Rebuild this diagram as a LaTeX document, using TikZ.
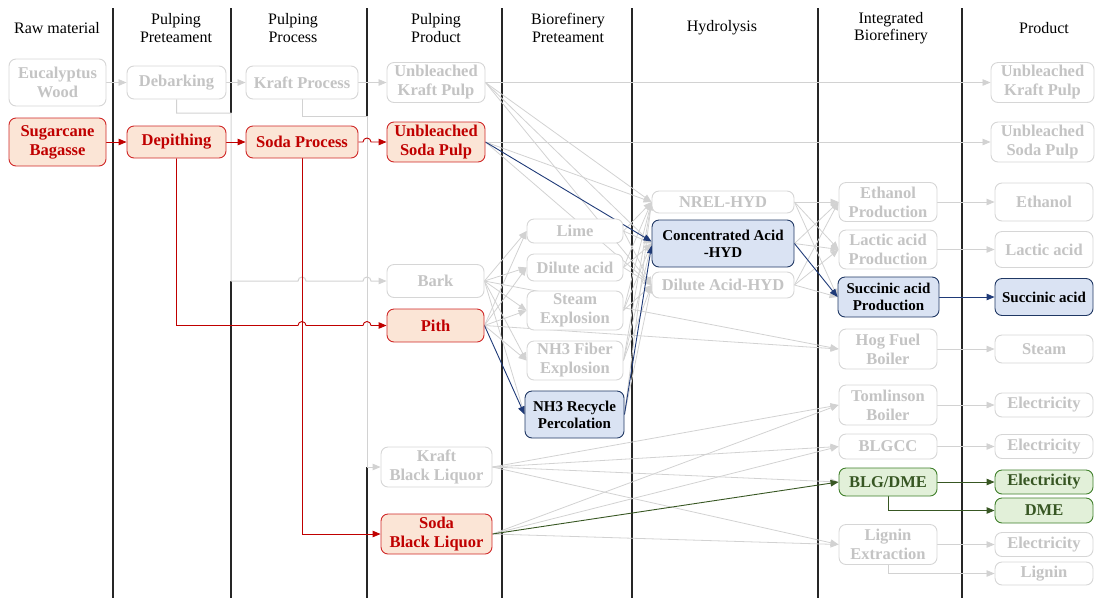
\documentclass[tikz,border=0pt]{standalone}
\usepackage{fontspec}
\setmainfont{Liberation Serif}
\usetikzlibrary{arrows.meta}
\pgfdeclarelayer{back}
\pgfdeclarelayer{wires}
\pgfsetlayers{back,wires,main}

\definecolor{gBorder}{HTML}{D6D6D6}
\definecolor{gText}{HTML}{C4C4C4}
\definecolor{gLine}{HTML}{D2D2D2}
\definecolor{rBorder}{HTML}{D02828}
\definecolor{rFill}{HTML}{FBE5D6}
\definecolor{rText}{HTML}{C00000}
\definecolor{rLine}{HTML}{C00000}
\definecolor{bBorder}{HTML}{203864}
\definecolor{bFill}{HTML}{DAE3F3}
\definecolor{bLine}{HTML}{1F3A78}
\definecolor{nBorder}{HTML}{3F7F2A}
\definecolor{nFill}{HTML}{E2F0D9}
\definecolor{nText}{HTML}{375623}
\definecolor{nLine}{HTML}{385723}

\tikzset{
  base/.style={rounded corners=7pt, line width=0.9pt, inner sep=0pt, align=center,
    font=\bfseries\fontsize{16.5}{19}\selectfont},
  gbox/.style={base, draw=gBorder, fill=white, text=gText},
  rbox/.style={base, draw=rBorder, fill=rFill, text=rText},
  bbox/.style={base, draw=bBorder, fill=bFill, text=black, font=\bfseries\fontsize{15}{16.8}\selectfont},
  nbox/.style={base, draw=nBorder, fill=nFill, text=nText},
  sz/.style 2 args={minimum width=#1, minimum height=#2},
  hdr/.style={align=center, inner sep=0pt, font=\fontsize{16}{17.5}\selectfont},
  tip/.style={-{Triangle[length=8pt,width=6.5pt]}},
  gw/.style={draw=gLine, line width=0.8pt, tip},
  rw/.style={draw=rLine, line width=0.9pt, tip},
  bw/.style={draw=bLine, line width=0.9pt, tip},
  nw/.style={draw=nLine, line width=0.9pt, tip},
  sep/.style={line width=1.1pt, draw=black!85},
}

\begin{document}
\begin{tikzpicture}[x=1pt,y=-1pt]
\useasboundingbox (0,0) rectangle (1097,598);

% column headings
\node[hdr] (h1) at (57,28) {Raw material};
\node[hdr] (h2) at (176,28) {Pulping\\Preteament};
\node[hdr] (h3) at (293,28) {Pulping\\Process};
\node[hdr] (h4) at (436,28) {Pulping\\Product};
\node[hdr] (h5) at (568,28) {Biorefinery\\Preteament};
\node[hdr] (h6) at (722,28) {Hydrolysis};
\node[hdr] (h7) at (891,28) {Integrated\\Biorefinery};
\node[hdr] (h8) at (1044,28) {Product};

% raw material, pulping
\node[gbox, sz={97}{47}] (euc) at (57.5,82.5) {Eucalyptus\\Wood};
\node[rbox, sz={97}{48}] (sug) at (57.5,142) {Sugarcane\\Bagasse};
\node[gbox, sz={99}{33}] (deb) at (176.5,82.5) {Debarking};
\node[rbox, sz={99}{32}] (dep) at (176.5,142) {Depithing};
\node[gbox, sz={112}{33}] (kp) at (302,82.5) {Kraft Process};
\node[rbox, sz={112}{32}] (sp) at (302,142) {Soda Process};
\node[gbox, sz={98}{40}] (ukp) at (436,82.5) {Unbleached\\Kraft Pulp};
\node[rbox, sz={98}{40}] (usp) at (436,142) {Unbleached\\Soda Pulp};
\node[gbox, sz={97}{33}] (bark) at (435.5,281) {Bark};
\node[rbox, sz={97}{33}] (pith) at (435.5,325.5) {Pith};
\node[gbox, sz={111}{40}] (kbl) at (436.5,467) {Kraft\\Black Liquor};
\node[rbox, sz={111}{40}] (sbl) at (436.5,534) {Soda\\Black Liquor};

% biorefinery pretreatment
\node[gbox, sz={96}{24}] (lime) at (575,231) {Lime};
\node[gbox, sz={96}{27}] (dacid) at (575,267.5) {Dilute acid};
\node[gbox, sz={96}{39}] (steam) at (575,310.5) {Steam\\Explosion};
\node[gbox, sz={96}{39}] (nh3f) at (575,360.5) {NH3 Fiber\\Explosion};
\node[bbox, sz={99}{47}] (nh3r) at (574.5,414.5) {NH3 Recycle\\Percolation};

% hydrolysis
\node[gbox, sz={142}{22}] (nrel) at (723,202) {NREL-HYD};
\node[bbox, sz={142}{47}] (conc) at (723,243.5) {Concentrated Acid\\-HYD};
\node[gbox, sz={142}{26}] (dhyd) at (723,285) {Dilute Acid-HYD};

% integrated biorefinery
\node[gbox, sz={98}{39}] (ethp) at (888,202) {Ethanol\\Production};
\node[gbox, sz={98}{39}] (lacp) at (888,249.5) {Lactic acid\\Production};
\node[bbox, sz={101}{40}] (sucp) at (888.5,297) {Succinic acid\\Production};
\node[gbox, sz={98}{40}] (hog) at (888,349) {Hog Fuel\\Boiler};
\node[gbox, sz={98}{40}] (tom) at (888,405) {Tomlinson\\Boiler};
\node[gbox, sz={98}{25}] (blgcc) at (888,446.5) {BLGCC};
\node[nbox, sz={98}{28}] (blgdme) at (888,482) {BLG/DME};
\node[gbox, sz={98}{40}] (lig) at (888,544.5) {Lignin\\Extraction};

% products
\node[gbox, sz={103}{40}] (pukp) at (1042.5,82.5) {Unbleached\\Kraft Pulp};
\node[gbox, sz={103}{40}] (pusp) at (1042.5,142) {Unbleached\\Soda Pulp};
\node[gbox, sz={98}{38}] (peth) at (1044,202) {Ethanol};
\node[gbox, sz={98}{36}] (plac) at (1044,249.5) {Lactic acid};
\node[bbox, sz={98}{37}] (psuc) at (1044,297) {Succinic acid};
\node[gbox, sz={98}{28}] (psteam) at (1044,349) {Steam};
\node[gbox, sz={98}{24}] (pe1) at (1044,405) {Electricity};
\node[gbox, sz={98}{24}] (pe2) at (1044,446.5) {Electricity};
\node[nbox, sz={98}{24}] (pe3) at (1044,482) {Electricity};
\node[nbox, sz={98}{25}] (pdme) at (1044,510.5) {DME};
\node[gbox, sz={98}{24}] (pe4) at (1044,544.5) {Electricity};
\node[gbox, sz={98}{23}] (plig) at (1044,573.5) {Lignin};

% column separators (two of them are partly replaced by the grey routes)
\begin{pgfonlayer}{back}
\foreach \x in {113,502,632,818,962}
  \draw[sep] (\x,8) -- (\x,598);
\draw[sep] (231,8) -- (231,113);
\draw[sep] (231,281) -- (231,598);
\draw[sep] (367,8) -- (367,116);
\draw[sep] (367,467) -- (367,598);
\end{pgfonlayer}

\begin{pgfonlayer}{wires}
% grey routes
\draw[gw] (euc.east) -- (deb.west);
\draw[gw] (deb.east) -- (kp.west);
\draw[gw] (kp.east) -- (ukp.west);
\draw[gw, line width=1pt] (deb.south) -- (176.5,113) -- (231,113) -- (231,281)
  -- (298,281) arc(180:360:4) -- (363,281) arc(180:360:4) -- (bark.west);
\draw[gw, line width=1pt] (kp.south) -- (302,116) -- (367,116) -- (367,467) -- (kbl.west);
\draw[gw] (ukp.east) -- (pukp.west);
\draw[gw] (usp.east) -- (pusp.west);
\foreach \t in {nrel,conc,dhyd} \draw[gw] (ukp.east) -- (\t.west);
\foreach \t in {nrel,dhyd} \draw[gw] (usp.east) -- (\t.west);
\foreach \t in {lime,dacid,steam,nh3f,nh3r,hog} \draw[gw] (bark.east) -- (\t.west);
\foreach \t in {lime,dacid,steam,nh3f,hog} \draw[gw] (pith.east) -- (\t.west);
\foreach \s in {lime,dacid,steam,nh3f}
  \foreach \t in {nrel,conc,dhyd} \draw[gw] (\s.east) -- (\t.west);
\foreach \t in {nrel,dhyd} \draw[gw] (nh3r.east) -- (\t.west);
\foreach \s in {nrel,dhyd}
  \foreach \t in {ethp,lacp,sucp} \draw[gw] (\s.east) -- (\t.west);
\foreach \t in {ethp,lacp} \draw[gw] (conc.east) -- (\t.west);
\foreach \t in {tom,blgcc,blgdme,lig} \draw[gw] (kbl.east) -- (\t.west);
\foreach \t in {tom,blgcc,lig} \draw[gw] (sbl.east) -- (\t.west);
\draw[gw] (ethp.east) -- (peth.west);
\draw[gw] (lacp.east) -- (plac.west);
\draw[gw] (hog.east) -- (psteam.west);
\draw[gw] (tom.east) -- (pe1.west);
\draw[gw] (blgcc.east) -- (pe2.west);
\draw[gw] (lig.east) -- (pe4.west);
\draw[gw] (lig.south) |- (plig.west);

% sugarcane bagasse route
\draw[rw] (sug.east) -- (dep.west);
\draw[rw] (dep.east) -- (sp.west);
\draw[rw] (sp.east) -- (363,142) arc(180:360:4) -- (usp.west);
\draw[rw] (dep.south) -- (176.5,325.5) -- (298,325.5) arc(180:360:4)
  -- (363,325.5) arc(180:360:4) -- (pith.west);
\draw[rw] (sp.south) -- (302,534) -- (sbl.west);

% succinic acid route
\draw[bw] (usp.east) -- ([yshift=2pt]conc.west);
\draw[bw] (pith.east) -- (nh3r.west);
\draw[bw] (nh3r.east) -- ([yshift=-2pt]conc.west);
\draw[bw] (conc.east) -- (sucp.west);
\draw[bw] (sucp.east) -- (psuc.west);

% black liquor gasification route
\draw[nw] (sbl.east) -- (blgdme.west);
\draw[nw] (blgdme.east) -- (pe3.west);
\draw[nw] (blgdme.south) |- (pdme.west);
\end{pgfonlayer}
\end{tikzpicture}
\end{document}
